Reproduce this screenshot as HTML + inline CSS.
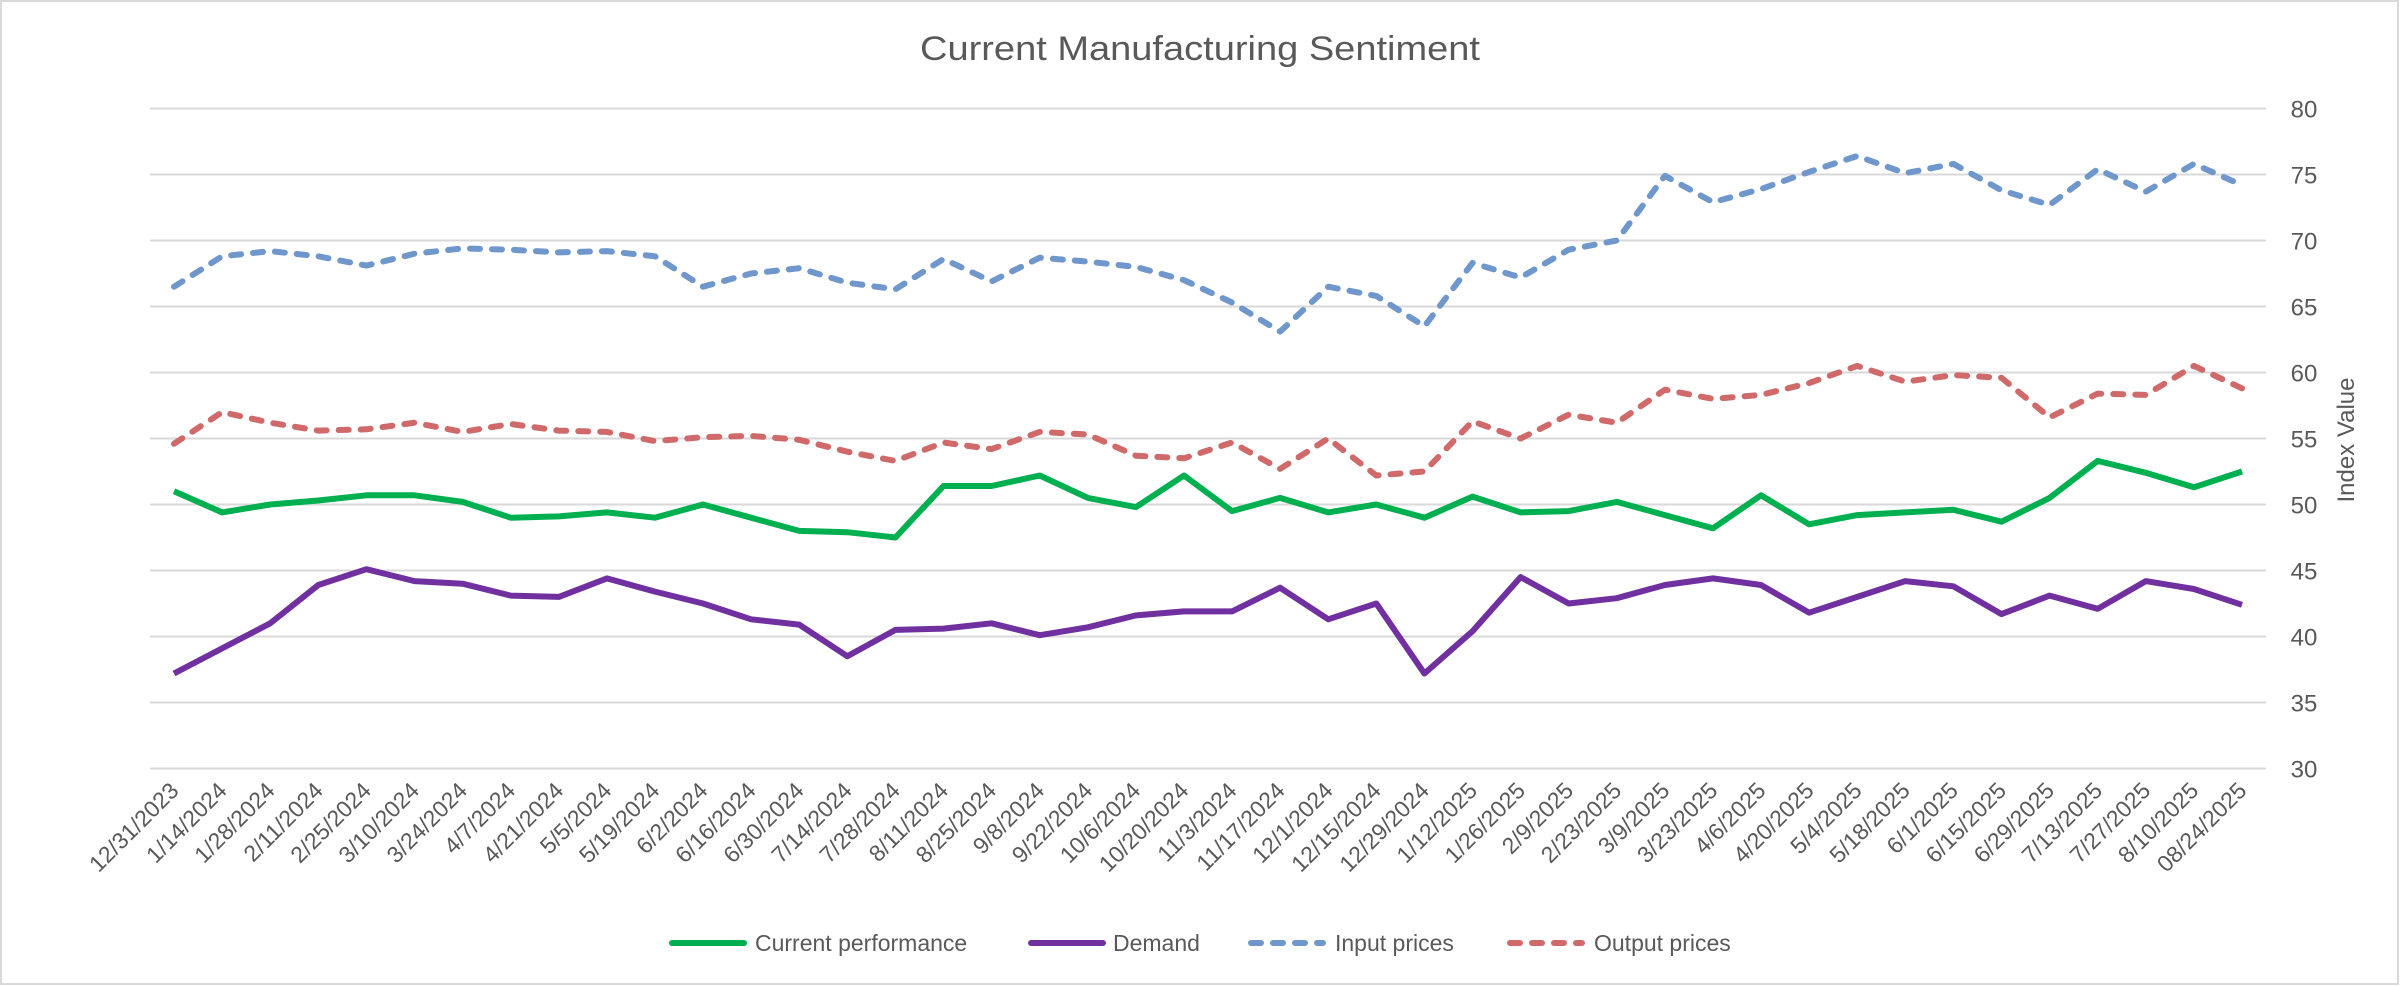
<!DOCTYPE html>
<html><head><meta charset="utf-8"><style>
html,body{margin:0;padding:0;background:#fff;}
svg{display:block;font-family:"Liberation Sans",sans-serif;}
</style></head><body>
<svg id="chart" width="2400" height="986" viewBox="0 0 2400 986" xmlns="http://www.w3.org/2000/svg">
<rect x="1" y="1" width="2397" height="983" fill="#fff" stroke="#d9d9d9" stroke-width="2"/>
<text x="1200" y="60" text-anchor="middle" font-size="34" fill="#595959" textLength="560" lengthAdjust="spacingAndGlyphs">Current Manufacturing Sentiment</text>
<g id="grid"></g>
<g id="yticks"></g>
<text transform="translate(2354,440) rotate(-90)" text-anchor="middle" font-size="24" fill="#595959">Index Value</text>
<g id="xticks"></g>
<g id="series"></g>
<g id="legend"></g>
</svg>
<script>
const categories = ["12/31/2023","1/14/2024","1/28/2024","2/11/2024","2/25/2024","3/10/2024","3/24/2024","4/7/2024","4/21/2024","5/5/2024","5/19/2024","6/2/2024","6/16/2024","6/30/2024","7/14/2024","7/28/2024","8/11/2024","8/25/2024","9/8/2024","9/22/2024","10/6/2024","10/20/2024","11/3/2024","11/17/2024","12/1/2024","12/15/2024","12/29/2024","1/12/2025","1/26/2025","2/9/2025","2/23/2025","3/9/2025","3/23/2025","4/6/2025","4/20/2025","5/4/2025","5/18/2025","6/1/2025","6/15/2025","6/29/2025","7/13/2025","7/27/2025","8/10/2025","08/24/2025"];
const currentPerformance = [51.0,49.4,50.0,50.3,50.7,50.7,50.2,49.0,49.1,49.4,49.0,50.0,49.0,48.0,47.9,47.5,51.4,51.4,52.2,50.5,49.8,52.2,49.5,50.5,49.4,50.0,49.0,50.6,49.4,49.5,50.2,49.2,48.2,50.7,48.5,49.2,49.4,49.6,48.7,50.5,53.3,52.4,51.3,52.5];
const demand = [37.2,39.1,41.0,43.9,45.1,44.2,44.0,43.1,43.0,44.4,43.4,42.5,41.3,40.9,38.5,40.5,40.6,41.0,40.1,40.7,41.6,41.9,41.9,43.7,41.3,42.5,37.2,40.4,44.5,42.5,42.9,43.9,44.4,43.9,41.8,43.0,44.2,43.8,41.7,43.1,42.1,44.2,43.6,42.4];
const inputPrices = [66.5,68.8,69.2,68.8,68.1,69.0,69.4,69.3,69.1,69.2,68.8,66.5,67.5,67.9,66.8,66.3,68.6,66.9,68.7,68.4,68.0,67.0,65.3,63.1,66.5,65.8,63.5,68.3,67.2,69.3,70.0,74.9,72.9,73.9,75.2,76.4,75.1,75.8,73.8,72.7,75.4,73.7,75.8,74.2];
const outputPrices = [54.6,57.0,56.2,55.6,55.7,56.2,55.5,56.1,55.6,55.5,54.8,55.1,55.2,54.9,54.0,53.3,54.7,54.2,55.5,55.3,53.7,53.5,54.7,52.7,55.0,52.2,52.5,56.3,55.0,56.8,56.2,58.7,58.0,58.3,59.2,60.5,59.3,59.8,59.6,56.6,58.4,58.3,60.5,58.8];
const yTicks = [30,35,40,45,50,55,60,65,70,75,80];
const seriesNames = ["Current performance","Demand","Input prices","Output prices"];

const NS="http://www.w3.org/2000/svg";
const plotL=150, plotR=2266, plotT=108.5, plotB=768.5, yMin=30, yMax=80;
function xScale(i){return plotL+(plotR-plotL)/categories.length*(i+0.5);}
function yScale(v){return plotB-(v-yMin)/(yMax-yMin)*(plotB-plotT);}
function mk(tag,attrs,parent){const e=document.createElementNS(NS,tag);for(const k in attrs)e.setAttribute(k,attrs[k]);parent.appendChild(e);return e;}

const grid=document.getElementById('grid'), yt=document.getElementById('yticks');
yTicks.forEach(t=>{
  const l=mk('line',{x1:plotL,x2:plotR,y1:yScale(t),y2:yScale(t),stroke:'#d9d9d9','stroke-width':2},grid);
  
  
  const tx=mk('text',{x:2304,y:yScale(t)+9,'text-anchor':'middle','font-size':24,fill:'#595959'},yt);
  tx.textContent=t;
  
  
});
const xt=document.getElementById('xticks');
categories.forEach((c,i)=>{
  const x=xScale(i)+6, y=792;
  const tx=mk('text',{x:x,y:y,'text-anchor':'end','font-size':23,fill:'#595959',transform:`rotate(-45 ${x} ${y})`},xt);
  tx.textContent=c;
  
  
});
const styles=[
  {data:currentPerformance,color:'#00B050',dash:null,name:'current-performance-line'},
  {data:demand,color:'#7030A0',dash:null,name:'demand-line'},
  {data:inputPrices,color:'#6F97CB',dash:'10 12',name:'input-prices-line'},
  {data:outputPrices,color:'#D06A6A',dash:'10 12',name:'output-prices-line'}
];
const sg=document.getElementById('series');
styles.forEach(s=>{
  const pts=s.data.map((v,i)=>xScale(i).toFixed(1)+','+yScale(v).toFixed(1)).join(' ');
  const a={points:pts,fill:'none',stroke:s.color,'stroke-width':6,'stroke-linejoin':'round','stroke-linecap':s.dash?'round':'butt'};
  if(s.dash)a['stroke-dasharray']=s.dash;
  const p=mk('polyline',a,sg);
  
  
});
const lg=document.getElementById('legend');
const legPos=[[672,755],[1031,1113],[1251,1335],[1510,1594]];
styles.forEach((s,i)=>{
  const g=mk('g',{},lg);
  
  
  const la={x1:legPos[i][0],x2:legPos[i][0]+72,y1:943,y2:943,stroke:s.color,'stroke-width':6,'stroke-linecap':'round'};
  if(s.dash)la['stroke-dasharray']='10 12';
  const l=mk('line',la,g);
  
  
  const t=mk('text',{x:legPos[i][1],y:951,'font-size':23,fill:'#595959'},g);
  t.textContent=seriesNames[i];
  
  
});
</script>
</body></html>
